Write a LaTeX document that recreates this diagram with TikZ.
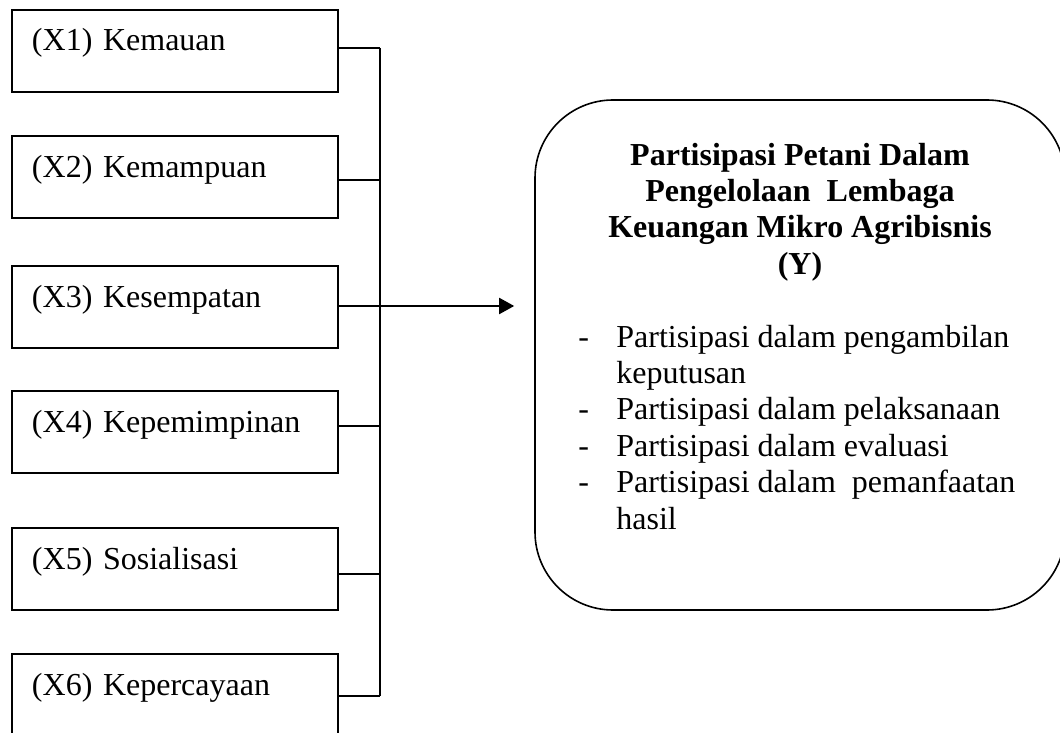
\documentclass[tikz,border=0pt]{standalone}
\usepackage{fontspec}
\setmainfont{Liberation Serif}
\usetikzlibrary{arrows.meta}

\begin{document}
\begin{tikzpicture}[x=0.5pt,y=-0.5pt,node distance=63pt,
        factor/.style={rectangle,draw=black,line width=1pt,inner xsep=10pt,inner ysep=0pt,
          text width=143pt,align=left,text height=20.5pt,text depth=20.5pt,
          font=\fontsize{16}{18.2}\selectfont},
        goal/.style={rectangle,draw=black,line width=0.8pt,rounded corners=39pt,
          minimum width=265pt,minimum height=255pt},
        body/.style={inner sep=0pt,font=\fontsize{16}{18.2}\selectfont},
        link/.style={line width=1pt},
        toarrow/.style={line width=1pt,-{Triangle[length=7.5pt,width=8pt]},shorten >=10pt}]

        \useasboundingbox (0,0) rectangle (1060,733);

        \node [factor]  (x1)  at (175,51) {(X1) Kemauan};
        \node [factor]  (x2)  [below of=x1] {(X2) Kemampuan};
        \node [factor]  (x3)  [below of=x2,node distance=65pt] {(X3) Kesempatan};
        \node [factor]  (x4)  [below of=x3,node distance=62.5pt] {(X4) Kepemimpinan};
        \node [factor]  (x5)  [below of=x4,node distance=68.5pt] {(X5) Sosialisasi};
        \node [factor]  (x6)  [below of=x5] {(X6) Kepercayaan};

        \node [goal]    (y)   at (800,355) {};
        \node [body,anchor=base,font=\bfseries\fontsize{16}{18.2}\selectfont] (ytitle) at (800,165)
          {\begin{tabular}[t]{@{}c@{}}
            Partisipasi Petani Dalam\\
            Pengelolaan\ \ Lembaga\\
            Keuangan Mikro Agribisnis\\
            (Y)
          \end{tabular}};
        \node [body,anchor=base west] (ylist) at (578,347)
          {\begin{tabular}[t]{@{}p{19pt}@{}l@{}}
            - & Partisipasi dalam pengambilan\\
              & keputusan\\
            - & Partisipasi dalam pelaksanaan\\
            - & Partisipasi dalam evaluasi\\
            - & Partisipasi dalam\ \ pemanfaatan\\
              & hasil
          \end{tabular}};

        \coordinate (j1) at (380,48);
        \coordinate (j2) at (380,180);
        \coordinate (j3) at (380,306);
        \coordinate (j4) at (380,426);
        \coordinate (j5) at (380,574);
        \coordinate (j6) at (380,696);

        \draw [link] (j1) -- (j6);
        \foreach \i in {1,2,4,5,6}
          \draw [link] (x\i.east |- j\i) -- (j\i);
        \draw [toarrow] (x3.east |- j3) -- (y.west |- j3);
      \end{tikzpicture}
\end{document}
